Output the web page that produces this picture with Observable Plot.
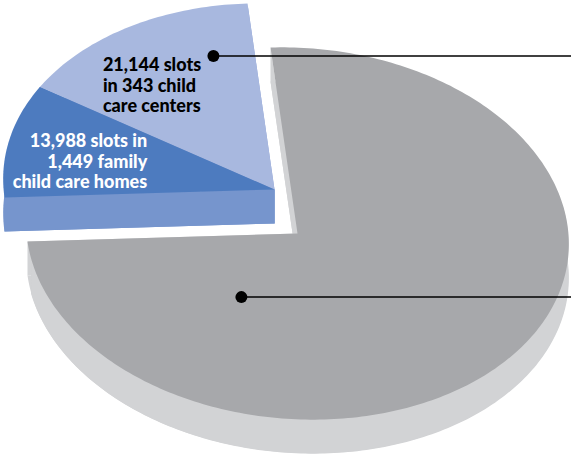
<!DOCTYPE html>
<html>
<head>
<meta charset="utf-8">
<script src="https://cdn.jsdelivr.net/npm/d3@7"></script>
<script src="https://cdn.jsdelivr.net/npm/@observablehq/plot@0.6"></script>
<style>
  html, body { margin: 0; padding: 0; background: #ffffff; }
  #chart svg { display: block; }
</style>
</head>
<body>
<div id="chart"></div>
<script>
// ---- data ----
const categories = ["centers", "homes", "other"];
const slots = [21144, 13988, 105396];
const labelTexts = ["21,144 slots\nin 343 child\ncare centers", "13,988 slots in\n1,449 family\nchild care homes", ""];
const exploded = [true, true, false];

// ---- styles / layout ----
const W = 571, H = 460;
const topColors = {centers: "#a8b8df", homes: "#4d7bbf", other: "#a7a8ab"};
const sideColors = {centers: "#8ea3d4", homes: "#7695cd", other: "#d2d3d5"};
const GEO = {center: [297, 233], ax: [270, -8], ay: [-27, -186], depth: 34, explode: [-23, -44]};
const FONT = "Lato, 'Open Sans', sans-serif";

// label anchors in pie coordinates (angle in degrees, fraction of radius)
const labelAnchors = [
  {cat: "centers", angle: 134.5, r: 0.823, anchor: "start", color: "#000000"},
  {cat: "homes", angle: 159.1, r: 0.486, anchor: "end", color: "#ffffff"}
];
const pointerAnchors = [
  {cat: "centers", angle: 102, r: 0.74},
  {cat: "other", angle: 234, r: 0.41}
];

// ---- geometry ----
const total = d3.sum(slots);
let acc = 0;
const slices = categories.map((cat, i) => {
  const a0 = 90 + acc / total * 360;
  acc += slots[i];
  const a1 = 90 + acc / total * 360;
  return {cat, a0, a1, exploded: exploded[i], value: slots[i]};
});
const sliceOf = cat => slices.find(s => s.cat === cat);

function proj(s, angle, r = 1, dz = 0) {
  const c = s.exploded ? [GEO.center[0] + GEO.explode[0], GEO.center[1] + GEO.explode[1]] : GEO.center;
  const t = angle * Math.PI / 180;
  return [
    c[0] + r * (Math.cos(t) * GEO.ax[0] + Math.sin(t) * GEO.ay[0]),
    c[1] + r * (Math.cos(t) * GEO.ax[1] + Math.sin(t) * GEO.ay[1]) + dz
  ];
}
function angles(a0, a1) {
  const n = Math.max(2, Math.ceil(Math.abs(a1 - a0)));
  return d3.range(n + 1).map(k => a0 + (a1 - a0) * k / n);
}
// angles where the outline's x is extreme: front (visible) arc between them
const tx = Math.atan2(-GEO.ay[0], GEO.ax[0]) * 180 / Math.PI;
const frontStart = 180 + tx, frontEnd = 360 + tx;

function buildGroup(group) {
  const sides = [], walls = [], tops = [];
  for (const s of group) {
    const sk = "side-" + s.cat, tk = "top-" + s.cat;
    const D = GEO.depth;
    const apex = proj(s, 0, 0), apexB = proj(s, 0, 0, D);
    const bottom = [apexB, ...angles(s.a0, s.a1).map(a => proj(s, a, 1, D))];
    bottom.forEach(([x, y]) => sides.push({id: s.cat + "-bottom", key: sk, x, y}));
    for (const a of [s.a0, s.a1]) {
      const p = proj(s, a), pB = proj(s, a, 1, D);
      [apex, p, pB, apexB].forEach(([x, y]) => sides.push({id: s.cat + "-cut" + a, key: sk, x, y}));
    }
    for (const off of [0, 360]) {
      const lo = Math.max(s.a0, frontStart + off), hi = Math.min(s.a1, frontEnd + off);
      if (hi > lo) {
        angles(lo, hi).forEach(a => {
          const [x, y] = proj(s, a);
          walls.push({id: s.cat + "-wall" + off, key: sk, x, y, y2: y + D});
        });
      }
    }
    [apex, ...angles(s.a0, s.a1).map(a => proj(s, a))].forEach(([x, y]) => tops.push({id: s.cat + "-top", key: tk, x, y}));
  }
  return [
    Plot.line(sides, {x: "x", y: "y", z: "id", fill: "key", stroke: "none", curve: "linear-closed"}),
    Plot.areaY(walls, {x: "x", y1: "y", y2: "y2", z: "id", fill: "key"}),
    Plot.line(tops, {x: "x", y: "y", z: "id", fill: "key", stroke: "none", curve: "linear-closed"})
  ];
}

const labels = labelAnchors.map(l => {
  const [x, y] = proj(sliceOf(l.cat), l.angle, l.r);
  return {x, y, text: labelTexts[categories.indexOf(l.cat)], anchor: l.anchor, color: l.color};
});
const pointers = pointerAnchors.map(p => {
  const [x, y] = proj(sliceOf(p.cat), p.angle, p.r);
  return {x, y, x2: W};
});

const colorDomain = [...categories.map(c => "top-" + c), ...categories.map(c => "side-" + c)];
const colorRange = [...categories.map(c => topColors[c]), ...categories.map(c => sideColors[c])];

const chart = Plot.plot({
  width: W, height: H,
  margin: 0,
  style: {background: "#ffffff", overflow: "visible"},
  x: {domain: [0, W], range: [0, W], axis: null},
  y: {domain: [0, H], range: [0, H], axis: null},
  color: {domain: colorDomain, range: colorRange},
  marks: [
    ...buildGroup(slices.filter(s => s.exploded)),
    ...buildGroup(slices.filter(s => !s.exploded)),
    Plot.link(pointers, {x1: "x", y1: "y", x2: "x2", y2: "y", stroke: "#000000", strokeWidth: 1.5}),
    Plot.dot(pointers, {x: "x", y: "y", r: 6, fill: "#000000", stroke: "none"}),
    ...labels.map(l => Plot.text([l], {
      x: "x", y: "y", text: "text", textAnchor: l.anchor, lineAnchor: "middle",
      lineHeight: 1.15, fontSize: 18, fontWeight: 900, fontFamily: FONT, fill: l.color
    }))
  ]
});
document.getElementById("chart").appendChild(chart);
</script>
</body>
</html>
